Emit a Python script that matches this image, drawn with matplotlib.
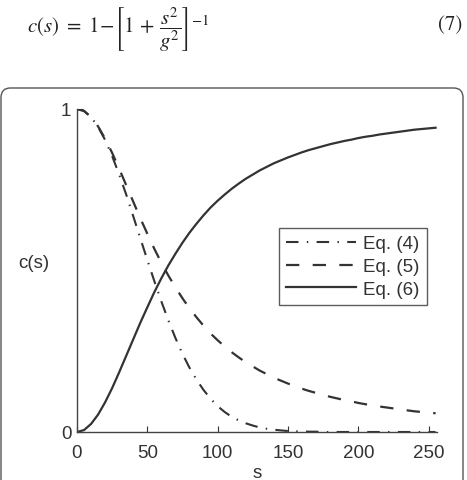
import matplotlib
matplotlib.use('Agg')
import matplotlib.pyplot as plt
from matplotlib.patches import FancyBboxPatch

# values, every 5 units of s
s = list(range(0, 256, 5))

eq4 = [1.000, 0.994, 0.975, 0.945, 0.904, 0.854, 0.797, 0.735, 0.668, 0.600,
       0.533, 0.467, 0.404, 0.345, 0.291, 0.242, 0.199, 0.162, 0.130, 0.103,
       0.080, 0.062, 0.047, 0.036, 0.027, 0.020, 0.014, 0.010, 0.007, 0.005,
       0.003, 0.002, 0.002, 0.001, 0.001, 0.000, 0.000, 0.000, 0.000, 0.000,
       0.000, 0.000, 0.000, 0.000, 0.000, 0.000, 0.000, 0.000, 0.000, 0.000,
       0.000, 0.000]

eq5 = [1.000, 0.994, 0.975, 0.946, 0.908, 0.864, 0.815, 0.764, 0.713, 0.662,
       0.614, 0.567, 0.524, 0.484, 0.448, 0.414, 0.383, 0.355, 0.329, 0.305,
       0.284, 0.265, 0.247, 0.231, 0.216, 0.203, 0.190, 0.179, 0.168, 0.159,
       0.150, 0.142, 0.134, 0.127, 0.121, 0.115, 0.109, 0.104, 0.099, 0.095,
       0.090, 0.086, 0.083, 0.079, 0.076, 0.073, 0.070, 0.067, 0.064, 0.062,
       0.060, 0.058]

eq6 = [0.000, 0.006, 0.025, 0.054, 0.092, 0.136, 0.185, 0.236, 0.287, 0.338,
       0.386, 0.433, 0.476, 0.516, 0.552, 0.586, 0.617, 0.645, 0.671, 0.695,
       0.716, 0.735, 0.753, 0.769, 0.784, 0.797, 0.810, 0.821, 0.832, 0.841,
       0.850, 0.858, 0.866, 0.873, 0.879, 0.885, 0.891, 0.896, 0.901, 0.905,
       0.910, 0.914, 0.917, 0.921, 0.924, 0.927, 0.930, 0.933, 0.936, 0.938,
       0.940, 0.942]

labels = ['Eq. (4)', 'Eq. (5)', 'Eq. (6)']
xticks = [0, 50, 100, 150, 200, 250]
yticks = [0, 1]

plt.rcParams['font.family'] = ['Liberation Sans', 'DejaVu Sans']
plt.rcParams['mathtext.fontset'] = 'stix'

col = '#333333'
fig = plt.figure(figsize=(4.67, 4.81), dpi=100)

# outer frame (rounded box)
W, H = 467.0, 481.0
frame = FancyBboxPatch((1 / W, -0.05), 462 / W, 1.05 - 89 / H,
                       boxstyle='round,pad=0,rounding_size=0.02',
                       transform=fig.transFigure, fill=False,
                       edgecolor='#555555', linewidth=1.0)
fig.patches.append(frame)

# equation above
fig.text(27 / W, 1 - 30 / H,
         r'$c(s)\ =\ 1\!-\!\left[1\,+\,\dfrac{s^2}{g^2}\right]^{-1}$',
         fontsize=15, va='center', ha='left', color='#222222')
fig.text(462 / W, 1 - 25 / H, '(7)', fontsize=15, va='center', ha='right',
         family='STIXGeneral', color='#222222')

ax = fig.add_axes([77 / W, 1 - 433 / H, 360 / W, 323 / H])

ax.plot(s, eq4, color=col, lw=1.5, dashes=(6, 4, 0.7, 4), label=labels[0])
ax.plot(s, eq5, color=col, lw=1.6, dashes=(6, 6), label=labels[1])
ax.plot(s, eq6, color=col, lw=1.6, label=labels[2])

ax.set_xlim(0, 256)
ax.set_ylim(0, 1)
ax.set_xticks(xticks)
ax.set_yticks(yticks)
ax.tick_params(direction='in', labelsize=13.5, length=4, width=0.8,
               colors='#333333', pad=4)
ax.tick_params(axis='x', pad=9)
for side in ['top', 'right']:
    ax.spines[side].set_visible(False)
for side in ['left', 'bottom']:
    ax.spines[side].set_color('#444444')
    ax.spines[side].set_linewidth(1.0)

ax.set_xlabel('s', fontsize=13.5, color='#333333', labelpad=2)
ax.set_ylabel('c(s)', fontsize=13.5, color='#333333', rotation=0,
              ha='center', va='center')
ax.yaxis.set_label_coords(-0.12, (433 - 263) / 323)

leg = ax.legend(loc='upper right', bbox_to_anchor=(0.972, 0.632),
                fontsize=13.5, handlelength=3.7, handletextpad=0.4,
                labelspacing=0.3, borderpad=0.4, fancybox=False,
                frameon=True, borderaxespad=0)
leg.get_frame().set_edgecolor('#333333')
leg.get_frame().set_linewidth(1.0)
for t in leg.get_texts():
    t.set_color('#333333')

fig.savefig('out.png', dpi=100)
